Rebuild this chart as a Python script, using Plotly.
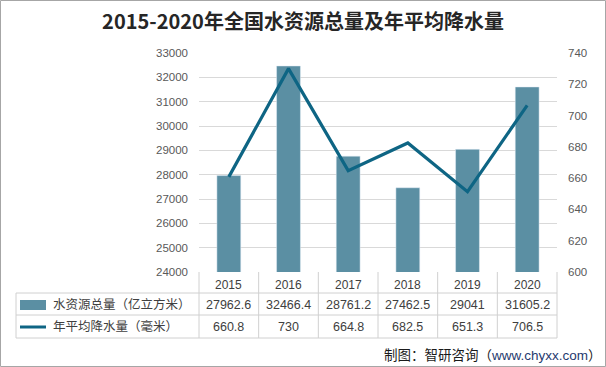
import plotly.graph_objects as go

years = ["2015", "2016", "2017", "2018", "2019", "2020"]
water_total = [27962.6, 32466.4, 28761.2, 27462.5, 29041, 31605.2]
rainfall = [660.8, 730, 664.8, 682.5, 651.3, 706.5]
water_labels = ["27962.6", "32466.4", "28761.2", "27462.5", "29041", "31605.2"]
rain_labels = ["660.8", "730", "664.8", "682.5", "651.3", "706.5"]
name_bar = "水资源总量（亿立方米）"
name_line = "年平均降水量（毫米）"
title_text = "2015-2020年全国水资源总量及年平均降水量"

W, H = 606, 367
L, R, T, B = 199, 49, 53, 95
pw, ph = W - L - R, H - T - B

def px(x):
    return (x - L) / pw

def py(y):
    return (H - B - y) / ph

BAR_C = "#5b8fa3"
LINE_C = "#0e6584"
TXT = "#595959"
FONT = "Liberation Sans, Noto Sans CJK SC, sans-serif"

fig = go.Figure()
fig.add_trace(go.Bar(x=years, y=water_total, name=name_bar, marker_color=BAR_C,
                     width=0.4, yaxis="y"))
fig.add_trace(go.Scatter(x=years, y=rainfall, name=name_line, mode="lines",
                         line=dict(color=LINE_C, width=3.2), yaxis="y2"))

shapes = []
# outer border
shapes.append(dict(type="rect", xref="paper", yref="paper",
                   x0=px(0.5), x1=px(605.5), y0=py(366.5), y1=py(0.5),
                   line=dict(color="#a6a6a6", width=1), layer="below"))
# table lines
tl = "#d0d0d0"
for yy in [293, 315, 338]:
    shapes.append(dict(type="line", xref="paper", yref="paper",
                       x0=px(16), x1=1, y0=py(yy), y1=py(yy), line=dict(color=tl, width=1)))
shapes.append(dict(type="line", xref="paper", yref="paper",
                   x0=px(16), x1=px(16), y0=py(293), y1=py(338), line=dict(color=tl, width=1)))
n = len(years)
for k in range(n + 1):
    shapes.append(dict(type="line", xref="paper", yref="paper",
                       x0=k / n, x1=k / n, y0=0, y1=py(338), line=dict(color=tl, width=1)))
# legend keys
shapes.append(dict(type="rect", xref="paper", yref="paper",
                   x0=px(20), x1=px(46), y0=py(310), y1=py(300),
                   fillcolor=BAR_C, line=dict(width=0)))
shapes.append(dict(type="line", xref="paper", yref="paper",
                   x0=px(20), x1=px(46), y0=py(327), y1=py(327),
                   line=dict(color=LINE_C, width=3)))

ann = []
for i, yr in enumerate(years):
    ann.append(dict(x=i, xref="x", y=py(285), yref="paper", text=yr, showarrow=False,
                    font=dict(size=12, color="#404040", family=FONT), yanchor="middle"))
    ann.append(dict(x=i, xref="x", y=py(305), yref="paper", text=water_labels[i], showarrow=False,
                    font=dict(size=12.5, color="#404040", family=FONT), yanchor="middle"))
    ann.append(dict(x=i, xref="x", y=py(327), yref="paper", text=rain_labels[i], showarrow=False,
                    font=dict(size=12.5, color="#404040", family=FONT), yanchor="middle"))
ann.append(dict(x=px(51), xref="paper", y=py(304), yref="paper", text=name_bar, showarrow=False,
                xanchor="left", yanchor="middle", font=dict(size=12.5, color="#404040", family=FONT)))
ann.append(dict(x=px(51), xref="paper", y=py(326), yref="paper", text=name_line, showarrow=False,
                xanchor="left", yanchor="middle", font=dict(size=12.5, color="#404040", family=FONT)))
ann.append(dict(x=px(604), xref="paper", y=py(355), yref="paper", xanchor="right", yanchor="middle",
                text="制图：智研咨询（<span style='color:#1f3a6e'>www.chyxx.com</span>）",
                showarrow=False, font=dict(size=13.5, color="#1a1a1a", family=FONT)))

fig.update_layout(
    width=W, height=H,
    margin=dict(l=L, r=R, t=T, b=B, pad=0),
    paper_bgcolor="white", plot_bgcolor="white",
    showlegend=False,
    title=dict(text="<b>" + title_text + "</b>", x=0.5, xref="container", xanchor="center",
               y=1 - 22 / H, yref="container", yanchor="middle",
               font=dict(size=20, color="#262626", family="Noto Sans CJK SC, sans-serif")),
    xaxis=dict(type="category", range=[-0.5, n - 0.5], showticklabels=False, ticks="",
               showgrid=False, showline=False, zeroline=False),
    yaxis=dict(range=[24000, 33000], dtick=1000, tick0=24000, showgrid=True,
               tickformat="d",
               gridcolor="#d9d9d9", gridwidth=1, zeroline=False, showline=False,
               ticks="", ticklabelstandoff=10,
               tickfont=dict(size=11.5, color=TXT, family=FONT)),
    yaxis2=dict(range=[600, 740], dtick=20, tick0=600, overlaying="y", side="right",
                tickformat="d",
                showgrid=False, zeroline=False, showline=False, ticks="",
                ticklabelstandoff=10,
                tickfont=dict(size=11.5, color=TXT, family=FONT)),
    shapes=shapes, annotations=ann,
)

fig.write_html("out.html", config={"displayModeBar": False},
               post_script="document.body.style.margin='0';")
